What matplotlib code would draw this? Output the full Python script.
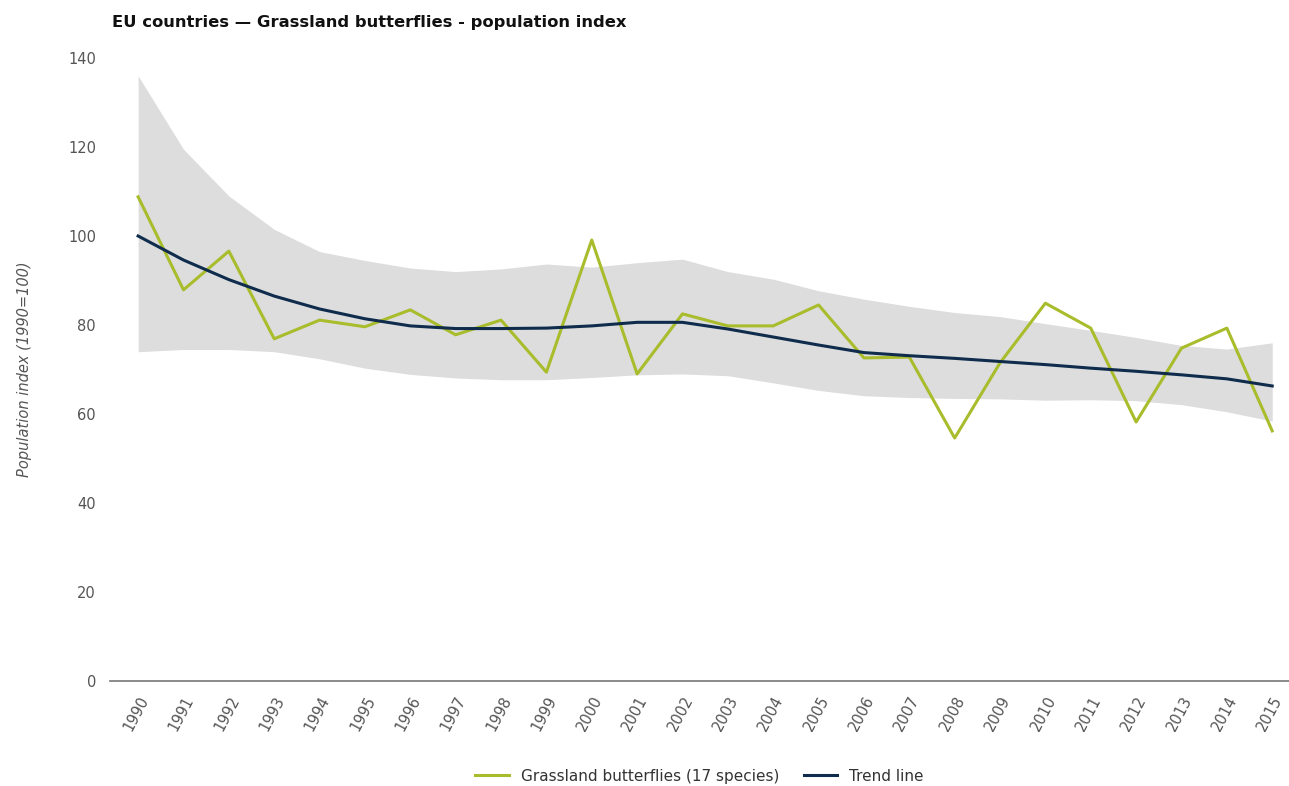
import matplotlib.pyplot as plt
import numpy as np

years = np.arange(1990, 2016)

butterflies = [108.8, 87.9, 96.6, 76.9, 81.1, 79.6, 83.4, 77.8, 81.1, 69.4,
               99.1, 69.0, 82.5, 79.8, 79.8, 84.5, 72.6, 72.8, 54.6, 71.5,
               84.9, 79.3, 58.2, 74.8, 79.3, 56.2]
trend = [100.0, 94.6, 90.2, 86.5, 83.6, 81.4, 79.8, 79.2, 79.2, 79.3,
         79.8, 80.6, 80.6, 79.1, 77.3, 75.5, 73.8, 73.1, 72.5, 71.8,
         71.1, 70.3, 69.6, 68.8, 67.9, 66.3]
upper = [136.0, 119.5, 109.0, 101.5, 96.5, 94.5, 92.8, 92.0, 92.6, 93.7,
         93.0, 94.0, 94.8, 92.0, 90.3, 87.7, 85.8, 84.2, 82.8, 81.9,
         80.3, 78.8, 77.2, 75.4, 74.6, 76.0]
lower = [74.0, 74.5, 74.5, 74.0, 72.4, 70.3, 68.9, 68.1, 67.7, 67.7,
         68.2, 68.8, 69.0, 68.6, 67.0, 65.3, 64.1, 63.7, 63.5, 63.4,
         63.1, 63.2, 63.0, 62.1, 60.5, 58.4]

green = "#a9bc2b"
navy = "#0f2c4c"
grey_text = "#555555"

fig = plt.figure(figsize=(12.89, 7.86), dpi=100)
ax = fig.add_axes([110 / 1289, 1 - 681 / 786, (1289 - 110) / 1289, (681 - 58) / 786])

ax.fill_between(years, lower, upper, color="#dddddd", linewidth=0)
ax.plot(years, butterflies, color=green, linewidth=2.2,
        label="Grassland butterflies (17 species)")
ax.plot(years, trend, color=navy, linewidth=2.2, label="Trend line")

ax.set_xlim(1989.38, 2015.37)
ax.set_ylim(0, 140)
ax.set_yticks(np.arange(0, 141, 20))
ax.set_xticks(years)
ax.set_xticklabels([str(y) for y in years], rotation=62, ha="right",
                   rotation_mode="anchor")
ax.tick_params(axis="both", length=0, labelsize=10.5, labelcolor=grey_text)
ax.tick_params(axis="y", pad=10)
ax.tick_params(axis="x", pad=9)

for side in ["top", "right", "left"]:
    ax.spines[side].set_visible(False)
ax.spines["bottom"].set_color("#777777")
ax.spines["bottom"].set_linewidth(1.2)

ax.set_ylabel("Population index (1990=100)", fontstyle="italic",
              color=grey_text, fontsize=10.5, labelpad=26)

fig.text(112 / 1289, 1 - 22 / 786,
         "EU countries \u2014 Grassland butterflies - population index",
         fontsize=11.8, fontweight="bold", color="#111111", va="center")

ax.legend(loc="center", bbox_to_anchor=(0.5, -0.153), ncol=2, frameon=False,
          fontsize=11, handlelength=2.2, columnspacing=1.6,
          labelcolor="#333333")

plt.savefig("out.png", dpi=100)
